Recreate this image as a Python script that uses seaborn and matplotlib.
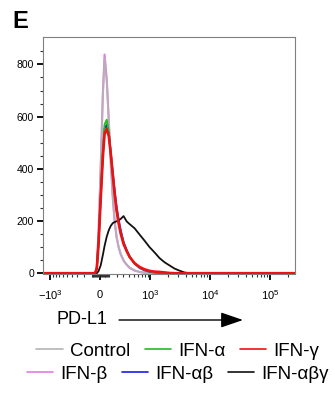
import numpy as np
import pandas as pd
import matplotlib
matplotlib.use("Agg")
import matplotlib.pyplot as plt
import seaborn as sns
from matplotlib.lines import Line2D
from matplotlib.ticker import NullFormatter

sns.set_style("white")
plt.rcParams['font.family'] = ['Liberation Sans', 'DejaVu Sans']
plt.rcParams['mathtext.fontset'] = 'custom'
plt.rcParams['mathtext.rm'] = 'Liberation Sans'
plt.rcParams['mathtext.it'] = 'Liberation Sans:italic'
plt.rcParams['text.color'] = 'black'
plt.rcParams['xtick.color'] = 'black'
plt.rcParams['ytick.color'] = 'black'

# PD-L1 intensity (histogram bin positions)
pd_l1 = [-1330, -60, -40, -20, 5, 30, 50, 75, 100, 125, 150, 175, 200, 230, 260,
         305, 360, 415, 520, 645, 790, 970, 1180, 1440, 1750, 2120, 2570, 3110,
         3770, 4560, 262144]

# cell counts per condition
control = [0, 0, 20, 150, 400, 680, 822, 740, 580, 420, 290, 200, 140, 100, 75,
           50, 33, 22, 11, 5, 2, 0, 0, 0, 0, 0, 0, 0, 0, 0, 0]
ifn_b = [0, 0, 22, 160, 410, 690, 838, 745, 585, 420, 285, 195, 138, 98, 72,
         48, 32, 20, 10, 5, 2, 0, 0, 0, 0, 0, 0, 0, 0, 0, 0]
ifn_a = [0, 0, 20, 120, 300, 470, 570, 588, 540, 455, 375, 300, 240, 192, 155,
         115, 85, 62, 38, 22, 13, 7, 4, 2, 1, 0, 0, 0, 0, 0, 0]
ifn_ab = [0, 0, 18, 115, 290, 455, 555, 568, 535, 460, 385, 315, 255, 205, 165,
          120, 88, 63, 37, 20, 11, 6, 3, 1, 0, 0, 0, 0, 0, 0, 0]
ifn_g = [0, 0, 18, 110, 285, 445, 535, 552, 525, 455, 375, 300, 240, 190, 152,
         112, 84, 62, 38, 24, 15, 9, 6, 5, 3, 1, 0, 0, 0, 0, 0]
ifn_abg = [0, 0, 0, 8, 30, 70, 105, 140, 165, 182, 192, 196, 199, 203, 208,
           219, 198, 188, 172, 148, 125, 100, 80, 58, 42, 30, 18, 10, 3, 0, 0]

conditions = ['IFN-β', 'Control', 'IFN-αβ', 'IFN-α', 'IFN-αβγ', 'IFN-γ']
series = [ifn_b, control, ifn_ab, ifn_a, ifn_abg, ifn_g]
colors = {'Control': '#b4b4b4', 'IFN-β': '#e27ee2', 'IFN-αβ': '#1a1aee',
          'IFN-α': '#22bb22', 'IFN-αβγ': '#111111', 'IFN-γ': '#ee1111'}
widths = {'Control': 1.4, 'IFN-β': 1.5, 'IFN-αβ': 1.4,
          'IFN-α': 1.4, 'IFN-αβγ': 1.3, 'IFN-γ': 1.9}

df = pd.DataFrame({
    'PD-L1': pd_l1 * len(conditions),
    'count': sum(series, []),
    'condition': np.repeat(conditions, len(pd_l1)),
})

fig = plt.figure(figsize=(3.35, 3.95), dpi=100)
ax = fig.add_axes([0.1284, 0.3063, 0.7522, 0.600])
ax.set_xscale('asinh', linear_width=300)

for c in conditions:
    sns.lineplot(data=df[df['condition'] == c], x='PD-L1', y='count',
                 color=colors[c], lw=widths[c], ax=ax, legend=False,
                 alpha=0.85 if c == 'Control' else 1)

ax.set_xlim(-1330, 262144)
ax.set_ylim(-3, 905)
ax.set_xlabel('')
ax.set_ylabel('')

# ticks
ax.set_yticks([0, 200, 400, 600, 800])
ax.set_yticks(np.arange(50, 900, 50), minor=True)
ax.set_xticks([-1000, 0, 1000, 10000, 100000],
              ['$-10^3$', r'$0^{\ }$', '$10^3$', '$10^4$', '$10^5$'])
xminor = ([-v for v in range(100, 1000, 100)] + [-v for v in range(10, 100, 10)]
          + list(range(10, 100, 10)) + list(range(100, 1000, 100))
          + list(range(2000, 10000, 1000)) + list(range(20000, 100000, 10000))
          + [200000])
ax.set_xticks(xminor, minor=True)
ax.xaxis.set_minor_formatter(NullFormatter())
ax.tick_params(which='major', length=4.5, width=1.3, color='black',
               labelsize=7.5, pad=2, labelcolor='black')
ax.tick_params(axis='x', which='major', pad=5.5, labelsize=8)
ax.tick_params(which='minor', length=2.3, width=0.8, color='#333333')
ax.tick_params(axis='x', which='both', bottom=True)
ax.tick_params(axis='y', which='both', left=True)
for s in ax.spines.values():
    s.set_color('#808080')
    s.set_linewidth(0.8)

# panel letter
fig.text(12 / 335, 1 - 28 / 395, 'E', fontsize=17, fontweight='bold',
         va='baseline', ha='left')

# axis label with arrow
fig.text(57 / 335, 1 - 320 / 395, 'PD-L1', fontsize=13, va='center', ha='left')
fig.patches.append(matplotlib.patches.FancyArrowPatch(
    (119 / 335, 1 - 320 / 395), (243 / 335, 1 - 320 / 395),
    transform=fig.transFigure, figure=fig,
    arrowstyle='-|>,head_length=1.37,head_width=0.47', mutation_scale=10,
    color='black', lw=1.0, shrinkA=0, shrinkB=0))

# legend in two rows
order1 = ['Control', 'IFN-α', 'IFN-γ']
order2 = ['IFN-β', 'IFN-αβ', 'IFN-αβγ']
for order, ypos in [(order1, 0.111), (order2, 0.053)]:
    handles = [Line2D([], [], color=colors[c], lw=1.2) for c in order]
    fig.legend(handles, order, loc='center', bbox_to_anchor=(0.531, ypos),
               ncol=3, frameon=False, fontsize=13.5, handlelength=1.4,
               handletextpad=0.4, columnspacing=0.75, borderpad=0,
               borderaxespad=0)

fig.savefig('out.png', dpi=100)
